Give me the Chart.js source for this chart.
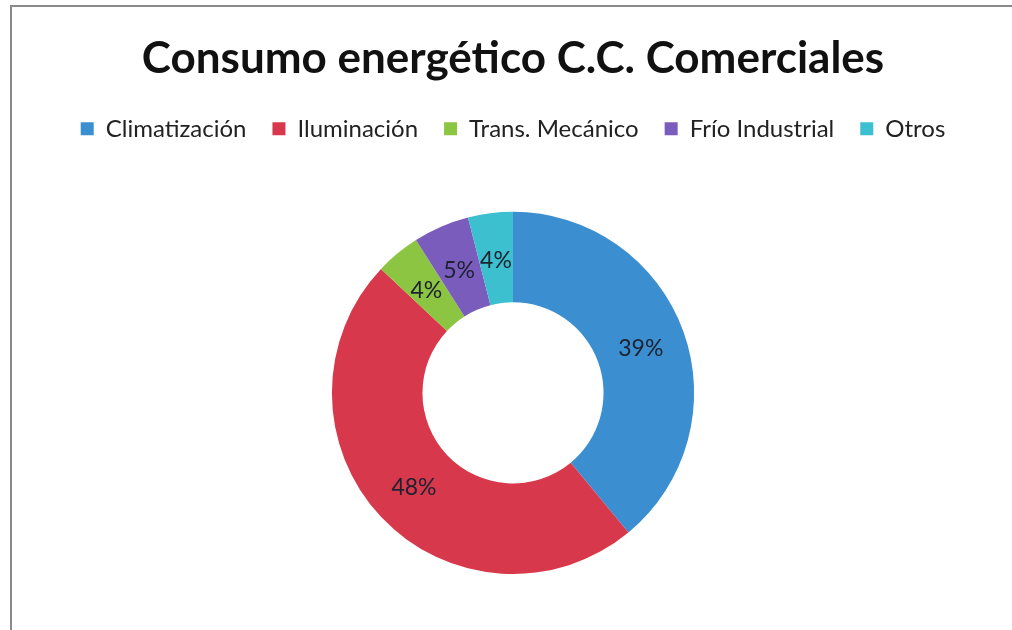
<!DOCTYPE html>
<html>
<head>
<meta charset="utf-8">
<script src="https://cdn.jsdelivr.net/npm/chart.js@4.4.0/dist/chart.umd.min.js"></script>
<style>
  html, body { margin: 0; padding: 0; background: #ffffff; }
  #wrap { position: relative; width: 1012px; height: 630px; }
  #frame { position: absolute; left: 10px; top: 5px; width: 1000px; height: 630px;
           border-left: 2px solid #8a8a8a; border-top: 2px solid #8a8a8a; pointer-events: none; }
  canvas { position: absolute; left: 0; top: 0; }
</style>
</head>
<body>
<div id="wrap">
  <canvas id="c" width="1012" height="630"></canvas>
  <div id="frame"></div>
</div>
<script>
const categories = ["Climatización", "Iluminación", "Trans. Mecánico", "Frío Industrial", "Otros"];
const values = [39, 48, 4, 5, 4];
const colors = ["#3b8fd0", "#d8384c", "#8cc541", "#7a5cbd", "#3cbfcf"];
const titleText = "Consumo energético C.C. Comerciales";

const legendSpace = {
  id: 'legendSpace',
  beforeInit(chart) {
    const origFit = chart.legend.fit;
    chart.legend.fit = function () {
      origFit.bind(chart.legend)();
      this.height += 61;
    };
  }
};

const pctLabels = {
  id: 'pctLabels',
  afterDatasetsDraw(chart) {
    const ctx = chart.ctx;
    const meta = chart.getDatasetMeta(0);
    const data = chart.data.datasets[0].data;
    const total = data.reduce((a, b) => a + b, 0);
    ctx.save();
    ctx.font = '23px Lato';
    ctx.fillStyle = '#1c2230';
    ctx.textAlign = 'center';
    ctx.textBaseline = 'middle';
    meta.data.forEach((arc, i) => {
      const p = arc.tooltipPosition();
      ctx.fillText(Math.round(data[i] / total * 100) + '%', p.x, p.y + 2);
    });
    ctx.restore();
  }
};

new Chart(document.getElementById('c'), {
  type: 'doughnut',
  data: {
    labels: categories,
    datasets: [{
      data: values,
      backgroundColor: colors,
      borderWidth: 0
    }]
  },
  options: {
    responsive: false,
    animation: false,
    cutout: '50%',
    layout: { padding: { left: 14, right: 0, top: 0, bottom: 56 } },
    plugins: {
      tooltip: { enabled: false },
      title: {
        display: true,
        text: titleText,
        color: '#111111',
        font: { family: 'Lato', size: 44, weight: 'bold' },
        padding: { top: 32, bottom: 6 }
      },
      legend: {
        position: 'top',
        labels: {
          color: '#222222',
          font: { family: 'Lato', size: 24 },
          boxWidth: 13,
          boxHeight: 13,
          padding: 26
        }
      }
    }
  },
  plugins: [legendSpace, pctLabels]
});
</script>
</body>
</html>
